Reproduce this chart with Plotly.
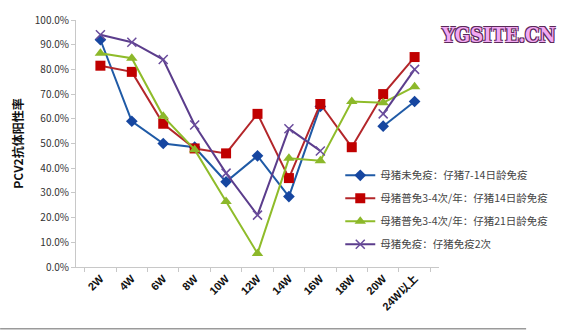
import plotly.graph_objects as go

# Age groups on the x axis
categories = ["2W", "4W", "6W", "8W", "10W", "12W", "14W", "16W", "18W", "20W", "24W以上"]

# PCV2 antibody positive rate per immunisation scheme (fraction, None = not sampled)
sow_none_piglet_7_14d = [0.92, 0.59, 0.50, 0.485, 0.345, 0.45, 0.285, 0.65, None, 0.57, 0.67]
sow_mass_piglet_14d = [0.815, 0.79, 0.58, 0.48, 0.46, 0.62, 0.36, 0.66, 0.485, 0.70, 0.85]
sow_mass_piglet_21d = [0.865, 0.845, 0.61, 0.475, 0.265, 0.055, 0.44, 0.43, 0.67, 0.665, 0.73]
sow_vacc_piglet_twice = [0.94, 0.91, 0.84, 0.575, 0.38, 0.21, 0.56, 0.47, None, 0.62, 0.80]

series_names = [
    "母猪未免疫：仔猪7-14日龄免疫",
    "母猪普免3-4次/年：仔猪14日龄免疫",
    "母猪普免3-4次/年：仔猪21日龄免疫",
    "母猪免疫：仔猪免疫2次",
]

y_ticks = [i / 10 for i in range(11)]
y_tick_text = [f"{v * 100:.1f}%" for v in y_ticks]

styles = [
    dict(line_color="#1f5aa6", marker=dict(symbol="diamond", size=9, color="#1646a0")),
    dict(line_color="#b3262a", marker=dict(symbol="square", size=10, color="#c00000")),
    dict(line_color="#8fbc2a", marker=dict(symbol="triangle-up", size=10, color="#8cb82a")),
    dict(line_color="#5b3d8c", marker=dict(symbol="x-thin", size=9, color="#5b3d8c",
                                          line=dict(width=1.5, color="#6a4c9c"))),
]

fig = go.Figure()
for name, vals, st in zip(series_names,
                          [sow_none_piglet_7_14d, sow_mass_piglet_14d,
                           sow_mass_piglet_21d, sow_vacc_piglet_twice],
                          styles):
    fig.add_trace(go.Scatter(
        x=categories, y=vals, name=name, mode="lines+markers",
        line=dict(color=st["line_color"], width=2),
        marker=st["marker"], connectgaps=False,
        legendgroup=name,
    ))

fig.update_layout(
    width=570, height=330,
    margin=dict(l=76, r=131, t=11, b=63),
    paper_bgcolor="white", plot_bgcolor="white",
    font=dict(family="Noto Sans CJK SC, Arial, sans-serif", color="#222"),
    showlegend=True,
    legend=dict(
        x=0.728, y=0.43, xanchor="left", yanchor="top",
        font=dict(size=10.5, color="#444"),
        bgcolor="rgba(0,0,0,0)", itemwidth=30,
        traceorder="grouped", tracegroupgap=4,
    ),
)

fig.update_xaxes(
    type="category", categoryorder="array", categoryarray=categories,
    showline=True, linecolor="#c8c8c8", linewidth=1,
    ticks="outside", tickson="boundaries", ticklen=4, tickcolor="#c8c8c8",
    tickangle=-45,
    tickfont=dict(size=11, family="Liberation Sans, Noto Sans CJK SC, sans-serif",
                  color="#111", weight="bold"),
    showgrid=False, zeroline=False,
)
fig.update_yaxes(
    range=[0, 1], tickvals=y_ticks, ticktext=y_tick_text,
    showline=True, linecolor="#c8c8c8", linewidth=1,
    ticks="outside", ticklen=4, tickcolor="#c8c8c8",
    tickfont=dict(size=10, color="#333"),
    showgrid=False, zeroline=False,
    title=dict(text="<b>PCV2抗体阳性率</b>", font=dict(size=12, color="#111"), standoff=8),
)

# Site watermark in the top-right corner
fig.add_annotation(
    x=1.163, y=0.94, xref="paper", yref="paper", text="YGSITE.CN", showarrow=False,
    xanchor="center", yanchor="middle",
    font=dict(family="DejaVu Serif Condensed, DejaVu Serif", size=20, color="#f2a8f2", weight="bold",
              shadow="1px 1px 0 #5a2a5a, -1px -1px 0 #5a2a5a, 1px -1px 0 #5a2a5a, -1px 1px 0 #5a2a5a"),
)

# Grey rule along the bottom of the figure
fig.add_shape(type="line", xref="paper", yref="paper",
              x0=-0.209, x1=1.24, y0=-0.25, y1=-0.25,
              line=dict(color="#9a9a9a", width=1.5))

fig.write_html("out.html")
